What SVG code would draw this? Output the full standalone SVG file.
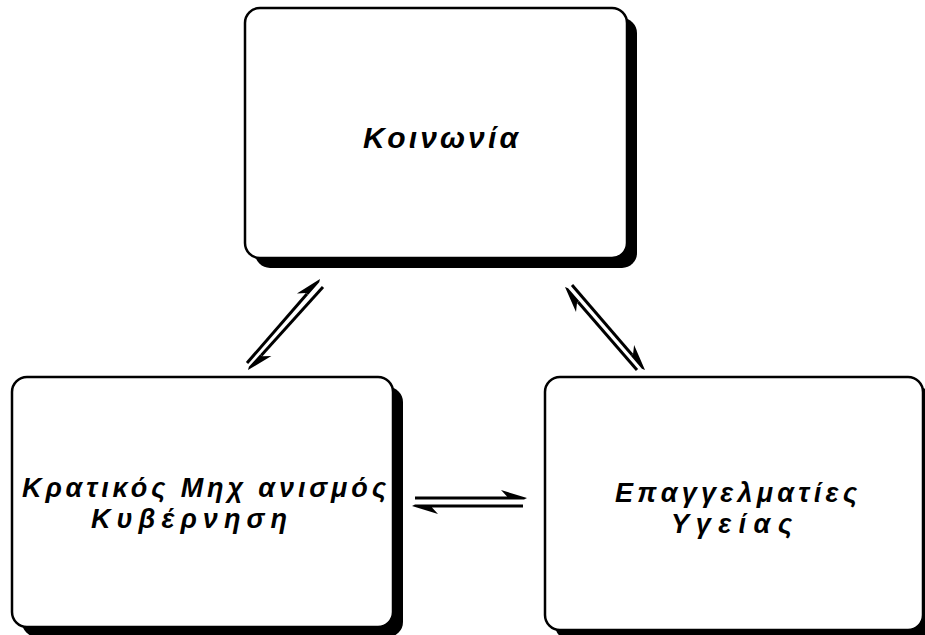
<svg xmlns="http://www.w3.org/2000/svg" width="925" height="635" viewBox="0 0 925 635">
<style>
.shadow{fill:#000}
.box{fill:#fff;stroke:#000;stroke-width:2.5}
.lbl{font-family:"Liberation Sans",Arial,sans-serif;font-weight:bold;font-style:italic;font-size:27px;fill:#000}
.big{font-size:30px}
.ln{stroke:#000;stroke-width:3;fill:none}
.hd{fill:#000}
</style>
<rect width="925" height="635" fill="#fff"/>
<g id="node-koinonia">
<rect class="shadow" x="255" y="18" width="382" height="250" rx="15"/>
<rect class="box" x="245" y="8" width="382" height="250" rx="15"/>
<text class="lbl big" x="363" y="148" textLength="155" lengthAdjust="spacing">Κοινωνία</text>
</g>
<g id="node-kratikos">
<rect class="shadow" x="22" y="387" width="381" height="250" rx="15"/>
<rect class="box" x="12" y="377" width="381" height="250" rx="15"/>
<text class="lbl" x="22" y="497" textLength="364" lengthAdjust="spacing">Κρατικός Μηχ ανισμός</text>
<text class="lbl" x="91" y="527.5" textLength="196" lengthAdjust="spacing">Κυβέρνηση</text>
</g>
<g id="node-epaggelmaties">
<rect class="shadow" x="555" y="387" width="378" height="253" rx="15"/>
<rect class="box" x="545" y="377" width="378" height="253" rx="15"/>
<text class="lbl" x="615" y="502" textLength="242" lengthAdjust="spacing">Επαγγελματίες</text>
<text class="lbl" x="671" y="532.5" textLength="121" lengthAdjust="spacing">Υγείας</text>
</g>
<g id="connectors">
<line class="ln" x1="247" y1="363" x2="306.9" y2="294.1"/>
<polygon class="hd" points="320,279 296.9,293.4 305.8,293.1 308,295.1 319.2,282.2"/>
<line class="ln" x1="323" y1="287" x2="261.4" y2="355.2"/>
<polygon class="hd" points="248,370 271.4,356.1 262.5,356.2 260.3,354.2 248.9,366.8"/>
<line class="ln" x1="637" y1="370" x2="578.1" y2="302.1"/>
<polygon class="hd" points="565,287 576,311.9 577,303.1 579.2,301.1 568.1,288.3"/>
<line class="ln" x1="572" y1="285" x2="632" y2="354.8"/>
<polygon class="hd" points="645,370 634.1,345 633.1,353.8 630.8,355.8 641.9,368.7"/>
<line class="ln" x1="415" y1="498" x2="507" y2="498"/>
<polygon class="hd" points="527,498 501,490 507,496.5 507,499.5 524,499.5"/>
<line class="ln" x1="523" y1="506" x2="432" y2="506"/>
<polygon class="hd" points="412,506 438,514 432,507.5 432,504.5 415,504.5"/>
</g>
</svg>
